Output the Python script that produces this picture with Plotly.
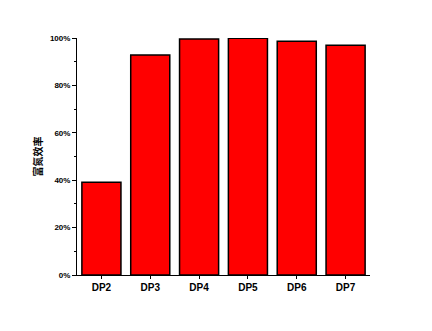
import plotly.graph_objects as go

categories = ["DP2", "DP3", "DP4", "DP5", "DP6", "DP7"]
values = [39.1, 92.8, 99.6, 99.9, 98.6, 96.9]
y_ticks = [0, 20, 40, 60, 80, 100]
y_tick_labels = ["0%", "20%", "40%", "60%", "80%", "100%"]
y_title = "富氮效率"

fig = go.Figure(go.Bar(
    x=list(range(len(categories))), y=values, width=0.8,
    marker=dict(color="#ff0000", line=dict(color="black", width=1.5)),
))
fig.update_layout(
    width=432, height=331, margin=dict(l=77, r=62, t=38, b=56),
    plot_bgcolor="white", paper_bgcolor="white", showlegend=False,
    font=dict(family="Liberation Sans, Arial", color="black"),
    xaxis=dict(range=[-0.5, 5.5], tickvals=list(range(len(categories))), ticktext=categories,
               showline=True, linecolor="black", linewidth=1, ticks="outside", ticklen=3,
               tickcolor="black", showgrid=False, zeroline=False,
               tickfont=dict(size=10, weight="bold", color="black")),
    yaxis=dict(range=[0, 100], tickvals=y_ticks, ticktext=y_tick_labels,
               showline=True, linecolor="black", linewidth=1, ticks="outside", ticklen=4,
               tickcolor="black", showgrid=False, zeroline=False,
               tickfont=dict(size=8, weight="bold", color="black"),
               minor=dict(ticks="outside", dtick=10, ticklen=2, tickcolor="black", showgrid=False),
               title=dict(text=y_title, font=dict(size=10, weight="bold", color="black",
                          family="Noto Sans CJK SC"), standoff=5)),
)
fig.write_html("out.html")
